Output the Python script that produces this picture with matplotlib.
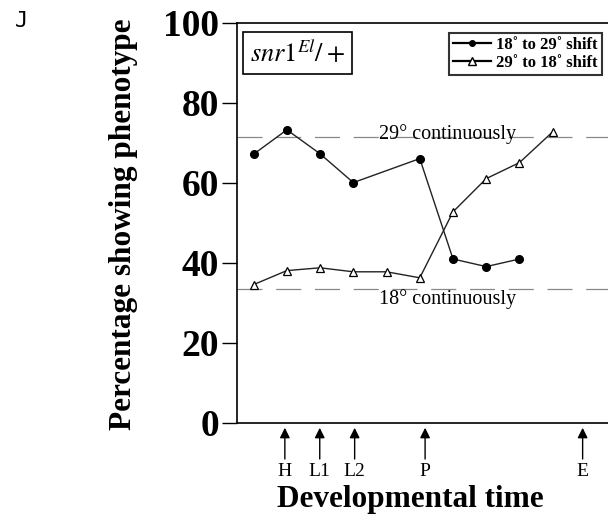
import matplotlib
matplotlib.use("Agg")
import matplotlib.pyplot as plt
from matplotlib.lines import Line2D

plt.rcParams['font.family'] = ['Liberation Serif', 'DejaVu Serif']
plt.rcParams['mathtext.fontset'] = 'stix'

# Data
x_shift_up = [1, 2, 3, 4, 6, 7, 8, 9]
y_shift_up = [67.2, 73.3, 67.3, 60.1, 66.1, 41.0, 39.1, 41.0]   # 18° to 29° shift
x_shift_down = [1, 2, 3, 4, 5, 6, 7, 8, 9, 10]
y_shift_down = [34.6, 38.1, 38.8, 37.8, 37.8, 36.3, 52.8, 61.1, 65.1, 72.8]  # 29° to 18° shift
cont29 = 71.5
cont18 = 33.5
stage_labels = ['H', 'L1', 'L2', 'P', 'E']
stage_x = [1.94, 2.99, 4.04, 6.16, 10.9]
yticks = [0, 20, 40, 60, 80, 100]

fig = plt.figure(figsize=(6.08, 5.15), dpi=100)
ax = fig.add_axes([237/608, (515-423)/515, 1 - 237/608 + 0.002, (423-23)/515])
ax.set_xlim(0.5, 11.7)
ax.set_ylim(0, 100)

# continuous reference lines
dash = (0, (20, 11))
ax.axhline(cont29, color='#888888', lw=0.9, ls=dash, zorder=1)
ax.axhline(cont18, color='#888888', lw=0.9, ls=dash, zorder=1)
ax.text(6.83, cont29 - 0.6, '29° continuously', ha='center', va='baseline', fontsize=14.5,
        zorder=2)
ax.text(6.83, 31.0, '18° continuously', ha='center', va='center', fontsize=14.5, zorder=2)

# series
ax.plot(x_shift_up, y_shift_up, color='#222222', lw=1.0, marker='o', ms=5.5,
        mfc='black', mec='black', zorder=4)
ax.plot(x_shift_down, y_shift_down, color='#222222', lw=1.0, marker='^', ms=5.8,
        mfc='white', mec='black', mew=0.9, zorder=4)

# axes styling
ax.spines['right'].set_visible(False)
for s in ['left', 'top', 'bottom']:
    ax.spines[s].set_linewidth(1.2)
ax.set_xticks([])
ax.set_yticks(yticks)
ax.set_yticklabels([str(v) for v in yticks], fontsize=27, fontweight='bold')
ax.tick_params(axis='y', direction='out', length=11, width=1.0, pad=2)

fig.text(123/608, 1 - 224/515, 'Percentage showing phenotype', rotation=90,
         ha='center', va='center', fontsize=22.5, fontweight='bold')

# stage arrows below axis
for lab, sx in zip(stage_labels, stage_x):
    ax.annotate('', xy=(sx, -0.012), xytext=(sx, -0.09),
                xycoords=('data', 'axes fraction'), textcoords=('data', 'axes fraction'),
                arrowprops=dict(arrowstyle='-|>', color='black', lw=1.0,
                                mutation_scale=15, shrinkA=0, shrinkB=0),
                annotation_clip=False)
    ax.text(sx, -0.122, lab, transform=ax.get_xaxis_transform(), ha='center', va='center',
            fontsize=14)

fig.text((275+545)/2/608, 1 - 500/515, 'Developmental time', ha='center', va='center',
         fontsize=22.5, fontweight='bold')

fig.text(22/608, 1 - 21/515, 'J', ha='center', va='center', fontsize=16,
         family='DejaVu Sans Mono')

# genotype box
ax.text(0.035, 0.925, r'$\mathit{snr1}^{El}/+$', transform=ax.transAxes, ha='left', va='center',
        fontsize=19, bbox=dict(facecolor='white', edgecolor='black', lw=1.2, pad=5))

# legend
handles = [Line2D([], [], color='black', lw=1.6, marker='o', ms=4, mfc='black'),
           Line2D([], [], color='black', lw=1.6, marker='^', ms=5.5, mfc='white')]
leg = ax.legend(handles, ['18˚ to 29˚ shift', '29˚ to 18˚ shift'], loc='upper right',
                bbox_to_anchor=(0.98, 0.976), frameon=True, fancybox=False,
                prop={'weight': 'bold', 'size': 12}, handlelength=2.3, handletextpad=0.3,
                borderpad=0.25, labelspacing=0.12, borderaxespad=0)
leg.get_frame().set_edgecolor('black')
leg.get_frame().set_linewidth(1.5)

fig.savefig('out.png', dpi=100)
